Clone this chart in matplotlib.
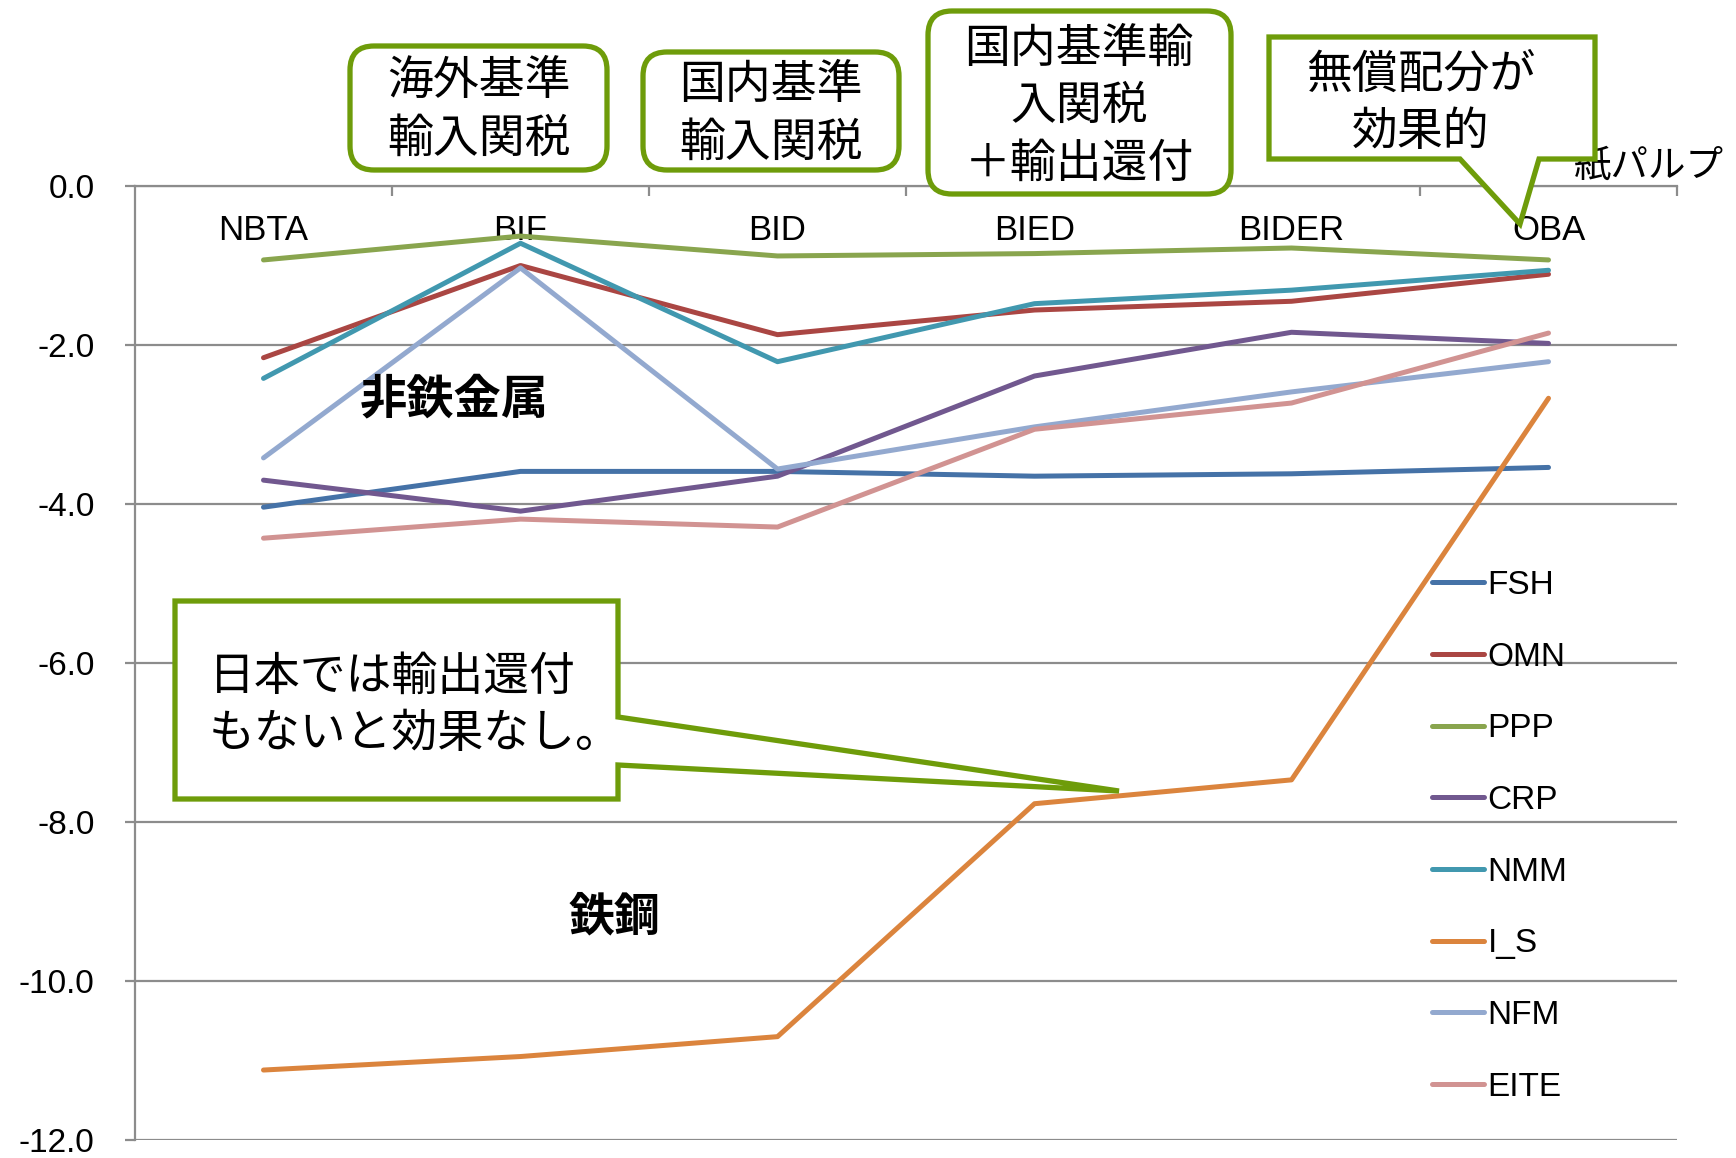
import matplotlib
matplotlib.use('Agg')
from matplotlib import pyplot as plt
from matplotlib import transforms
from matplotlib.patches import FancyBboxPatch, Polygon

plt.rcParams['font.family'] = ['Noto Sans CJK JP', 'DejaVu Sans']
plt.rcParams['axes.unicode_minus'] = False

# data
scenarios = ['NBTA', 'BIF', 'BID', 'BIED', 'BIDER', 'OBA']
sectors   = ['FSH', 'OMN', 'PPP', 'CRP', 'NMM', 'I_S', 'NFM', 'EITE']
fsh  = [-4.04, -3.59, -3.59, -3.65, -3.62, -3.54]
omn  = [-2.16, -1.00, -1.87, -1.56, -1.45, -1.11]
ppp  = [-0.93, -0.63, -0.88, -0.85, -0.78, -0.93]
crp  = [-3.70, -4.09, -3.65, -2.39, -1.84, -1.98]
nmm  = [-2.42, -0.72, -2.21, -1.48, -1.31, -1.06]
i_s  = [-11.12, -10.95, -10.70, -7.77, -7.47, -2.67]
nfm  = [-3.42, -1.03, -3.56, -3.03, -2.59, -2.21]
eite = [-4.43, -4.19, -4.29, -3.06, -2.73, -1.85]
series = [fsh, omn, ppp, crp, nmm, i_s, nfm, eite]
colors = ['#4572A7', '#AA4643', '#89A54E', '#71588F',
          '#4198AF', '#DB843D', '#93A9CF', '#D19392']
yticks = [0, -2, -4, -6, -8, -10, -12]

W, H = 1736, 1158
green = '#6E9C0A'
grid  = '#8C8C8C'

fig = plt.figure(figsize=(W/100., H/100.), dpi=100)
# pixel coords, origin top-left
px  = transforms.Affine2D().scale(1./W, -1./H).translate(0, 1) + fig.transFigure

ax = fig.add_axes([135./W, 1-1140./H, (1677-135.)/W, (1140-186.)/H])
xs = list(range(len(scenarios)))
for vals, name, c in zip(series, sectors, colors):
    ax.plot(xs, vals, color=c, lw=3.6, label=name,
            solid_capstyle='round', solid_joinstyle='round', zorder=3)

ax.set_xlim(-0.5, len(scenarios)-0.5)
ax.set_ylim(-12, 0)
ax.set_yticks(yticks)
ax.set_yticklabels(['{:.1f}'.format(v) for v in yticks],
                   family=['Liberation Sans'], fontsize=24)
ax.yaxis.grid(True, color=grid, lw=1.6)
ax.set_axisbelow(True)
ax.tick_params(axis='y', direction='out', length=7, width=1.6, color=grid, pad=22)

ax.xaxis.set_ticks_position('top')
ax.set_xticks(xs)
ax.set_xticklabels(scenarios, family=['Liberation Sans'], fontsize=25)
ax.set_xticks([x+0.5 for x in xs], minor=True)
ax.tick_params(axis='x', which='major', length=0, pad=-44)
ax.tick_params(axis='x', which='minor', direction='in', length=7, width=1.6, color=grid)
for s in ['right', 'bottom']:
    ax.spines[s].set_visible(False)
for s in ['left', 'top']:
    ax.spines[s].set_color(grid)
    ax.spines[s].set_linewidth(1.6)

leg = ax.legend(loc='upper left', bbox_to_anchor=(1432./W, 1-570./H),
                bbox_transform=fig.transFigure, frameon=False,
                prop={'family': 'Liberation Sans', 'size': 24},
                handlelength=1.55, handletextpad=0.12, labelspacing=1.22,
                borderpad=0, borderaxespad=0)
for h in leg.get_lines():
    h.set_solid_capstyle('round')
    h.set_linewidth(3.6)

# rounded boxes
jp = dict(fontsize=33, ha='center', va='center', linespacing=1.25, transform=px)
def rbox(x0, y0, x1, y1, text, tx, ty):
    fig.patches.append(FancyBboxPatch((x0, y0), x1-x0, y1-y0,
                       boxstyle='round,pad=0,rounding_size=24', transform=px,
                       fc='white', ec=green, lw=3.8, zorder=5))
    fig.text(tx, ty, text, zorder=6, **jp)

rbox(350, 46, 607, 170, '海外基準\n輸入関税', 479, 110)
rbox(643, 52, 899, 170, '国内基準\n輸入関税', 771, 114)
rbox(928, 11, 1231, 194, '国内基準輸\n入関税\n＋輸出還付', 1079, 106)

# callouts
fig.patches.append(Polygon([(1269, 37), (1595, 37), (1595, 159), (1539, 159),
                            (1520, 224), (1460, 159), (1269, 159)],
                           closed=True, transform=px, fc='white', ec=green,
                           lw=3.8, zorder=5))
fig.text(1421, 103, '無償配分が\n効果的', zorder=6, **jp)

fig.patches.append(Polygon([(175, 601), (618, 601), (618, 717), (1119, 791),
                            (618, 765), (618, 799), (175, 799)],
                           closed=True, transform=px, fc='white', ec=green,
                           lw=3.8, zorder=5))
fig.text(209, 705, '日本では輸出還付\nもないと効果なし。', fontsize=33, ha='left',
         va='center', linespacing=1.25, transform=px, zorder=6)

fig.text(454, 399, '非鉄金属', fontsize=34, fontweight='bold', ha='center',
         va='center', transform=px)
fig.text(614, 917, '鉄鋼', fontsize=33, fontweight='bold', ha='center',
         va='center', transform=px)
fig.text(1574, 167, '紙パルプ', fontsize=27, ha='left', va='center', transform=px)

fig.savefig('out.png', dpi=100)
